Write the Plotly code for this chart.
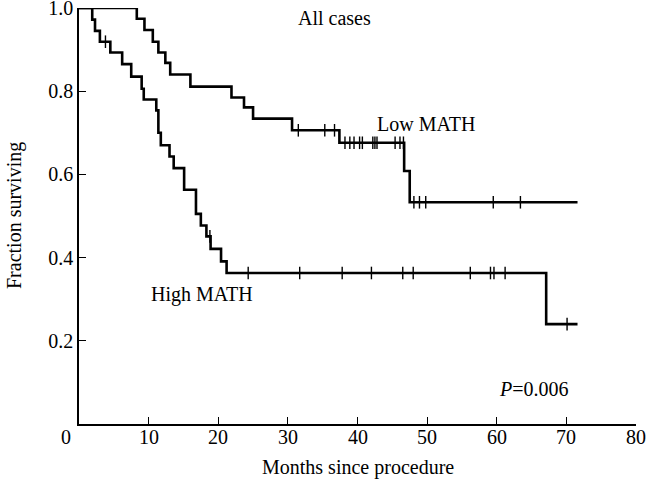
import plotly.graph_objects as go

# ---- data ----
low_times = [0, 8.3, 9.4, 10.6, 11.4, 12.4, 13.1, 16.0, 21.9, 23.7, 25.0, 30.6, 37.4, 46.7, 47.5, 71.6]
low_surv = [1.0, 0.974, 0.947, 0.919, 0.893, 0.868, 0.840, 0.811, 0.785, 0.761, 0.734, 0.706, 0.676, 0.608, 0.533, 0.533]

high_times = [0, 1.9, 2.3, 3.0, 4.5, 6.2, 7.5, 9.0, 9.3, 11.1, 11.4, 11.75, 13.0, 13.6, 15.1, 16.8, 17.5,
              18.3, 18.9, 20.4, 21.2, 67.1, 71.6]
high_surv = [1.0, 0.972, 0.945, 0.919, 0.893, 0.865, 0.835, 0.806, 0.780, 0.754, 0.700, 0.670, 0.643, 0.615,
             0.563, 0.505, 0.477, 0.451, 0.421, 0.391, 0.363, 0.240, 0.240]

low_cens_t = [31.5, 35.3, 36.7, 38.2, 38.9, 39.5, 40.3, 40.7, 42.2, 42.5, 42.8, 45.4, 46.1, 46.6,
              48.1, 48.9, 49.8, 59.5, 63.4]
low_cens_s = [0.706, 0.706, 0.706, 0.676, 0.676, 0.676, 0.676, 0.676, 0.676, 0.676, 0.676, 0.676, 0.676, 0.676,
              0.533, 0.533, 0.533, 0.533, 0.533]

high_cens_t = [3.8, 18.8, 24.3, 31.7, 37.8, 42.0, 46.5, 48.0, 56.2, 59.1, 59.6, 61.2, 70.1]
high_cens_s = [0.919, 0.451, 0.363, 0.363, 0.363, 0.363, 0.363, 0.363, 0.363, 0.363, 0.363, 0.363, 0.240]

x_ticks = [0, 10, 20, 30, 40, 50, 60, 70, 80]
x_tick_text = ["0", "10", "20", "30", "40", "50", "60", "70", "80"]
y_ticks = [0.2, 0.4, 0.6, 0.8, 1.0]
y_tick_text = ["0.2", "0.4", "0.6", "0.8", "1.0"]

FONT = "Liberation Serif, Times New Roman, serif"
L, R, T, B = 79, 12, 8, 59
W, H = 648, 483
pw, ph = W - L - R, H - T - B


def px_x(p):
    return (p - L) / pw


def px_y(p):
    return (H - B - p) / ph


fig = go.Figure()
for t, s in [(low_times, low_surv), (high_times, high_surv)]:
    fig.add_trace(go.Scatter(x=t, y=s, mode="lines", line=dict(color="black", width=2.6, shape="hv"),
                             showlegend=False, hoverinfo="skip", cliponaxis=False))
for t, s in [(low_cens_t, low_cens_s), (high_cens_t, high_cens_s)]:
    fig.add_trace(go.Scatter(x=t, y=s, mode="markers",
                             marker=dict(symbol="line-ns", size=9, line=dict(color="black", width=1.4)),
                             showlegend=False, hoverinfo="skip", cliponaxis=False))

axis_common = dict(ticks="inside", ticklen=7, tickwidth=1.4, tickcolor="black", showline=True,
                   linecolor="black", linewidth=1.6, showgrid=False, zeroline=False, automargin=False,
                   ticklabeloverflow="allow", tickfont=dict(family=FONT, size=20, color="black"))

annotations = []
# x tick labels as text (the "0" sits left of the corner, as in the reference)
for v, txt in zip(x_ticks, x_tick_text):
    if v == 0:
        annotations.append(dict(text=txt, x=px_x(65.5), xref="paper", y=px_y(437), yref="paper",
                                xanchor="center", yanchor="middle", showarrow=False))
    else:
        annotations.append(dict(text=txt, x=v, xref="x", y=px_y(437), yref="paper",
                                xanchor="center", yanchor="middle", showarrow=False))

annotations += [
    dict(text="All cases", x=31.2, y=0.976, xref="x", yref="y", xanchor="left", yanchor="middle",
         showarrow=False),
    dict(text="Low MATH", x=42.5, y=0.72, xref="x", yref="y", xanchor="left", yanchor="middle",
         showarrow=False),
    dict(text="High MATH", x=10.1, y=0.311, xref="x", yref="y", xanchor="left", yanchor="middle",
         showarrow=False),
    dict(text="<i>P</i>=0.006", x=60.0, y=0.084, xref="x", yref="y", xanchor="left", yanchor="middle",
         showarrow=False),
    dict(text="Fraction surviving", x=px_x(14), y=0.5, xref="paper", yref="paper", textangle=-90,
         xanchor="center", yanchor="middle", showarrow=False),
    dict(text="Months since procedure", x=0.5, y=px_y(467), xref="paper", yref="paper",
         xanchor="center", yanchor="middle", showarrow=False),
]

fig.update_layout(
    width=W, height=H,
    margin=dict(l=L, r=R, t=T, b=B),
    paper_bgcolor="white", plot_bgcolor="white",
    font=dict(family=FONT, size=20, color="black"),
    xaxis=dict(range=[0, 80], tickvals=x_ticks, showticklabels=False, **axis_common),
    yaxis=dict(range=[0, 1.0], tickvals=y_ticks, ticktext=y_tick_text, **axis_common),
    annotations=annotations,
)

fig.write_html("out.html", config={"displayModeBar": False},
               post_script="document.body.style.margin='0';document.body.style.overflow='hidden';")
